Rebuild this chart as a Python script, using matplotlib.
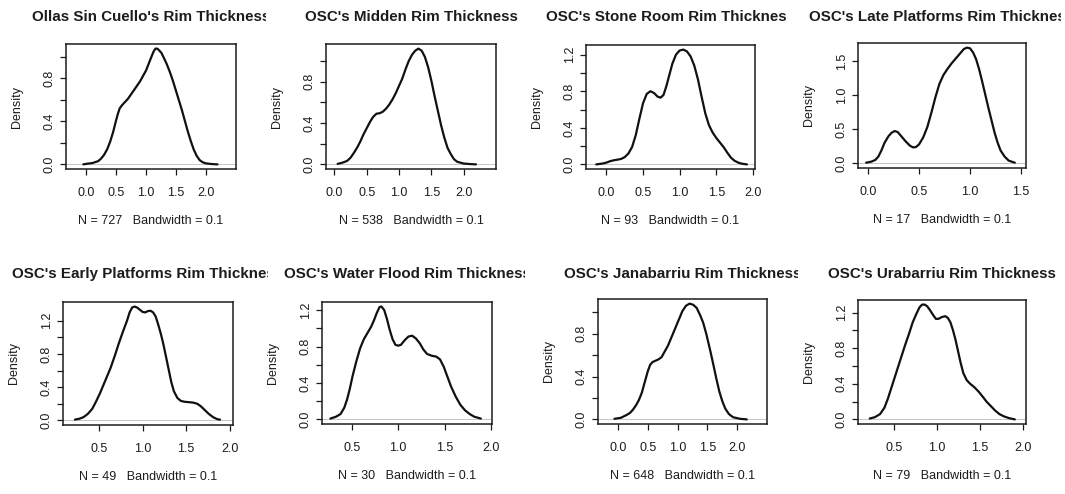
import matplotlib
matplotlib.use("Agg")
import matplotlib.pyplot as plt
from matplotlib.transforms import Bbox, TransformedBbox

plt.rcParams["font.family"] = ["Liberation Sans", "DejaVu Sans"]

# ---- data: kernel density estimates of rim thickness (bandwidth 0.1) ----
titles = [
    "Ollas Sin Cuello's Rim Thickness",
    "OSC's Midden Rim Thickness",
    "OSC's Stone Room Rim Thickness",
    "OSC's Late Platforms Rim Thickness",
    "OSC's Early Platforms Rim Thickness",
    "OSC's Water Flood Rim Thickness",
    "OSC's Janabarriu Rim Thickness",
    "OSC's Urabarriu Rim Thickness",
]
sample_sizes = [727, 538, 93, 17, 49, 30, 648, 79]
bandwidth = 0.1

x_ollas = [-0.05, 0.0, 0.1, 0.2, 0.25, 0.3, 0.35, 0.4, 0.45, 0.5, 0.53, 0.56, 0.6, 0.65, 0.7,
           0.8, 0.9, 1.0, 1.05, 1.1, 1.13, 1.16, 1.19, 1.22, 1.26, 1.3, 1.35, 1.4, 1.45, 1.5,
           1.55, 1.6, 1.65, 1.7, 1.75, 1.8, 1.85, 1.9, 1.95, 2.0, 2.1, 2.2]
y_ollas = [0.0, 0.005, 0.012, 0.03, 0.055, 0.09, 0.14, 0.21, 0.30, 0.41, 0.47, 0.52, 0.55, 0.58, 0.61,
           0.69, 0.77, 0.87, 0.94, 1.01, 1.05, 1.075, 1.075, 1.06, 1.035, 0.99, 0.93, 0.86, 0.78, 0.69,
           0.60, 0.51, 0.41, 0.31, 0.22, 0.14, 0.08, 0.04, 0.02, 0.01, 0.003, 0.0]

x_midden = [0.05, 0.1, 0.15, 0.2, 0.25, 0.3, 0.35, 0.4, 0.45, 0.5, 0.55, 0.6, 0.65, 0.7, 0.75,
            0.8, 0.85, 0.9, 0.95, 1.0, 1.05, 1.1, 1.15, 1.2, 1.25, 1.3, 1.35, 1.4, 1.45, 1.5,
            1.55, 1.6, 1.65, 1.7, 1.75, 1.8, 1.85, 1.9, 2.0, 2.1, 2.19]
y_midden = [0.005, 0.012, 0.022, 0.035, 0.065, 0.11, 0.16, 0.22, 0.29, 0.35, 0.41, 0.46, 0.49, 0.495, 0.51,
            0.54, 0.58, 0.63, 0.69, 0.76, 0.83, 0.92, 1.00, 1.06, 1.10, 1.12, 1.10, 1.04, 0.94, 0.81,
            0.66, 0.52, 0.38, 0.26, 0.16, 0.10, 0.05, 0.025, 0.008, 0.003, 0.0]

x_stone = [-0.14, -0.05, 0.0, 0.05, 0.1, 0.15, 0.2, 0.25, 0.3, 0.35, 0.4, 0.45, 0.5, 0.55, 0.6,
           0.65, 0.7, 0.74, 0.78, 0.82, 0.86, 0.9, 0.95, 1.0, 1.05, 1.1, 1.15, 1.2, 1.25, 1.3,
           1.35, 1.4, 1.45, 1.5, 1.55, 1.6, 1.65, 1.7, 1.75, 1.8, 1.85, 1.92]
y_stone = [0.0, 0.01, 0.02, 0.035, 0.045, 0.052, 0.06, 0.08, 0.12, 0.19, 0.32, 0.50, 0.67, 0.77, 0.80,
           0.78, 0.74, 0.73, 0.76, 0.86, 0.98, 1.10, 1.20, 1.245, 1.255, 1.235, 1.18, 1.08, 0.93, 0.74,
           0.56, 0.43, 0.35, 0.29, 0.24, 0.19, 0.13, 0.075, 0.04, 0.02, 0.008, 0.0]

x_late = [-0.02, 0.03, 0.07, 0.1, 0.13, 0.16, 0.2, 0.23, 0.26, 0.29, 0.33, 0.37, 0.41, 0.44, 0.47,
          0.5, 0.54, 0.58, 0.62, 0.66, 0.7, 0.74, 0.78, 0.82, 0.86, 0.9, 0.94, 0.97, 1.0, 1.03,
          1.06, 1.09, 1.12, 1.15, 1.18, 1.21, 1.24, 1.27, 1.3, 1.34, 1.38, 1.44]
y_late = [0.01, 0.025, 0.05, 0.10, 0.19, 0.30, 0.40, 0.45, 0.475, 0.46, 0.39, 0.32, 0.26, 0.235, 0.24,
          0.28, 0.38, 0.53, 0.74, 0.97, 1.17, 1.30, 1.39, 1.47, 1.54, 1.61, 1.68, 1.70, 1.69, 1.63,
          1.53, 1.38, 1.20, 1.01, 0.82, 0.64, 0.46, 0.31, 0.19, 0.10, 0.04, 0.01]

x_early = [0.22, 0.27, 0.32, 0.37, 0.42, 0.46, 0.51, 0.57, 0.63, 0.68, 0.72, 0.77, 0.82, 0.85, 0.88,
           0.91, 0.94, 0.97, 1.0, 1.03, 1.06, 1.09, 1.12, 1.15, 1.18, 1.21, 1.24, 1.27, 1.30, 1.33,
           1.36, 1.40, 1.44, 1.48, 1.53, 1.58, 1.63, 1.67, 1.71, 1.76, 1.81, 1.86, 1.89]
y_early = [0.01, 0.02, 0.04, 0.08, 0.14, 0.22, 0.33, 0.48, 0.63, 0.78, 0.91, 1.06, 1.20, 1.30, 1.36,
           1.37, 1.355, 1.33, 1.305, 1.30, 1.315, 1.32, 1.30, 1.25, 1.15, 1.04, 0.91, 0.76, 0.61, 0.46,
           0.35, 0.27, 0.235, 0.225, 0.22, 0.215, 0.20, 0.17, 0.13, 0.08, 0.04, 0.015, 0.01]

x_flood = [0.27, 0.33, 0.38, 0.42, 0.45, 0.48, 0.51, 0.55, 0.59, 0.63, 0.67, 0.71, 0.74, 0.77, 0.8,
           0.82, 0.85, 0.88, 0.91, 0.94, 0.97, 1.0, 1.03, 1.07, 1.11, 1.15, 1.19, 1.23, 1.27, 1.31,
           1.36, 1.41, 1.45, 1.49, 1.53, 1.57, 1.62, 1.67, 1.72, 1.77, 1.82, 1.89]
y_flood = [0.01, 0.03, 0.06, 0.13, 0.22, 0.34, 0.48, 0.64, 0.78, 0.88, 0.95, 1.02, 1.09, 1.17, 1.235,
           1.24, 1.20, 1.10, 0.98, 0.88, 0.82, 0.81, 0.82, 0.87, 0.91, 0.92, 0.89, 0.84, 0.77, 0.72,
           0.70, 0.69, 0.66, 0.58, 0.47, 0.36, 0.25, 0.16, 0.10, 0.06, 0.03, 0.01]

x_jana = [-0.06, 0.05, 0.14, 0.2, 0.25, 0.3, 0.35, 0.4, 0.45, 0.5, 0.54, 0.58, 0.62, 0.68, 0.73,
          0.78, 0.84, 0.9, 0.96, 1.02, 1.08, 1.14, 1.2, 1.26, 1.32, 1.38, 1.43, 1.48, 1.54, 1.6,
          1.65, 1.7, 1.75, 1.8, 1.86, 1.93, 2.05, 2.16]
y_jana = [0.005, 0.015, 0.04, 0.06, 0.09, 0.13, 0.18, 0.25, 0.35, 0.45, 0.51, 0.535, 0.545, 0.56, 0.58,
          0.63, 0.69, 0.77, 0.85, 0.93, 1.01, 1.06, 1.08, 1.07, 1.04, 0.97, 0.90, 0.80, 0.66, 0.51,
          0.38, 0.26, 0.17, 0.10, 0.05, 0.02, 0.005, 0.0]

x_ura = [0.22, 0.28, 0.34, 0.39, 0.43, 0.48, 0.53, 0.58, 0.63, 0.68, 0.72, 0.76, 0.8, 0.83, 0.86,
         0.89, 0.92, 0.96, 0.99, 1.02, 1.06, 1.1, 1.13, 1.16, 1.19, 1.22, 1.25, 1.28, 1.31, 1.35,
         1.39, 1.44, 1.49, 1.54, 1.58, 1.63, 1.68, 1.73, 1.78, 1.84, 1.91]
y_ura = [0.01, 0.025, 0.06, 0.13, 0.23, 0.38, 0.53, 0.68, 0.83, 0.97, 1.09, 1.18, 1.26, 1.29, 1.29,
         1.27, 1.23, 1.17, 1.13, 1.13, 1.15, 1.16, 1.14, 1.09, 1.00, 0.89, 0.76, 0.63, 0.52, 0.44,
         0.40, 0.36, 0.31, 0.25, 0.20, 0.15, 0.10, 0.06, 0.035, 0.015, 0.0]

curves_x = [x_ollas, x_midden, x_stone, x_late, x_early, x_flood, x_jana, x_ura]
curves_y = [y_ollas, y_midden, y_stone, y_late, y_early, y_flood, y_jana, y_ura]

x_ticks = [
    [0.0, 0.5, 1.0, 1.5, 2.0], [0.0, 0.5, 1.0, 1.5, 2.0], [0.0, 0.5, 1.0, 1.5, 2.0],
    [0.0, 0.5, 1.0, 1.5], [0.5, 1.0, 1.5, 2.0], [0.5, 1.0, 1.5, 2.0],
    [0.0, 0.5, 1.0, 1.5, 2.0], [0.5, 1.0, 1.5, 2.0],
]
y_ticks = [
    [0.0, 0.2, 0.4, 0.6, 0.8, 1.0], [0.0, 0.2, 0.4, 0.6, 0.8, 1.0],
    [0.0, 0.2, 0.4, 0.6, 0.8, 1.0, 1.2], [0.0, 0.5, 1.0, 1.5],
    [0.0, 0.2, 0.4, 0.6, 0.8, 1.0, 1.2], [0.0, 0.2, 0.4, 0.6, 0.8, 1.0, 1.2],
    [0.0, 0.2, 0.4, 0.6, 0.8, 1.0], [0.0, 0.2, 0.4, 0.6, 0.8, 1.0, 1.2],
]
y_tick_labels = [
    ["0.0", "", "0.4", "", "0.8", ""], ["0.0", "", "0.4", "", "0.8", ""],
    ["0.0", "", "0.4", "", "0.8", "", "1.2"], ["0.0", "0.5", "1.0", "1.5"],
    ["0.0", "", "0.4", "", "0.8", "", "1.2"], ["0.0", "", "0.4", "", "0.8", "", "1.2"],
    ["0.0", "", "0.4", "", "0.8", ""], ["0.0", "", "0.4", "", "0.8", "", "1.2"],
]

# ---- layout (pixels on a 1065 x 494 canvas) ----
W, H = 1065, 494
# plot box: left, right, top, bottom
boxes = [
    (66, 236, 44, 169), (326, 496, 44, 169), (586, 755, 45, 169), (858, 1026, 43, 168),
    (63, 233, 302, 425), (322, 492, 302, 424), (598, 767, 299, 424), (858, 1026, 300, 424),
]
x_limits = [(-0.34, 2.51), (-0.13, 2.50), (-0.28, 2.03), (-0.10, 1.55),
            (0.083, 2.04), (0.18, 2.01), (-0.336, 2.50), (0.083, 2.04)]
title_y = [17, 17, 17, 17, 274, 274, 274, 274]
title_clip_right = [266, 532, 787, 1061, 268, 525, 798, 1065]

ink = "#1c1c1c"
fig = plt.figure(figsize=(W / 100, H / 100), dpi=100)
fig.patch.set_facecolor("white")
PX = 0.72  # points per pixel at 100 dpi

for i in range(8):
    l, r, t, b = boxes[i]
    ax = fig.add_axes([l / W, 1 - b / H, (r - l) / W, (b - t) / H])
    ax.axhline(0, color="#bdbdbd", lw=0.6, zorder=1)
    ax.plot(curves_x[i], curves_y[i], color="#111111", lw=1.6,
            solid_joinstyle="round", solid_capstyle="round", zorder=2)
    ax.set_xlim(*x_limits[i])
    peak = max(curves_y[i])
    ax.set_ylim(-0.04 * peak, 1.04 * peak)

    ax.set_xticks(x_ticks[i])
    ax.set_xticklabels([f"{v:.1f}" for v in x_ticks[i]])
    ax.set_yticks(y_ticks[i])
    ax.set_yticklabels(y_tick_labels[i])
    ax.tick_params(direction="out", length=6 * PX, width=0.9, colors=ink,
                   labelsize=9, labelcolor=ink)
    ax.tick_params(axis="x", pad=8.5)
    ax.tick_params(axis="y", pad=3, labelrotation=90)
    for lab in ax.get_yticklabels():
        lab.set_va("center")
    for sp in ax.spines.values():
        sp.set_linewidth(1.1)
        sp.set_color(ink)

    ax.annotate("Density", xy=(0, 0.5), xycoords="axes fraction",
                xytext=(-49 * PX, 0), textcoords="offset points",
                rotation=90, ha="center", va="center", fontsize=9, color=ink)
    ax.annotate(f"N = {sample_sizes[i]}   Bandwidth = {bandwidth}",
                xy=(0.5, 0), xycoords="axes fraction",
                xytext=(0, -52 * PX), textcoords="offset points",
                ha="center", va="center", fontsize=9, color=ink)

    txt = fig.text((l + r) / 2 / W, 1 - title_y[i] / H, titles[i],
                   ha="center", va="center", fontsize=10.9, fontweight="bold", color=ink)
    clip = TransformedBbox(Bbox.from_extents(0, 0, title_clip_right[i] / W, 1), fig.transFigure)
    txt.set_clip_box(clip)
    txt.set_clip_on(True)

fig.savefig("out.png", dpi=100, facecolor="white")
